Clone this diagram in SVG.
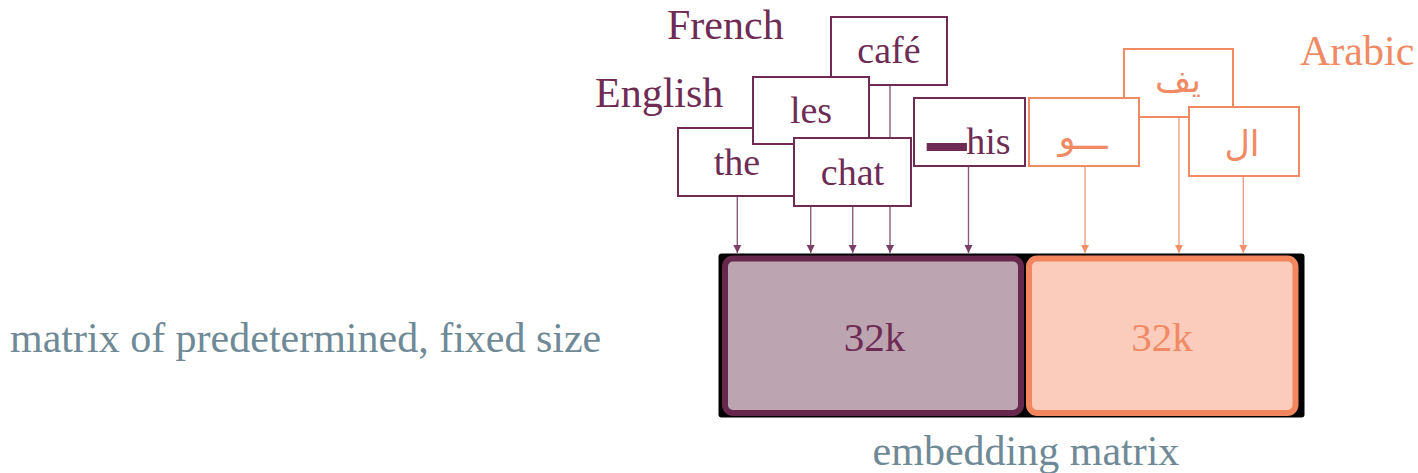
<svg xmlns="http://www.w3.org/2000/svg" width="1418" height="473" viewBox="0 0 1418 473">
  <style>
    .serif { font-family: "Liberation Serif", "Times New Roman", serif; }
    .ar { font-family: "DejaVu Sans", "Noto Sans", sans-serif; }
    .p-box { fill: #ffffff; stroke: #6e2c55; stroke-width: 2; }
    .o-box { fill: #ffffff; stroke: #f28a64; stroke-width: 2; }
    .p-txt { fill: #6e2c55; }
    .o-txt { fill: #f08a64; }
    .g-txt { fill: #6f8a96; }
    .p-line { stroke: #8c5d7b; stroke-width: 1.4; fill: none; marker-end: url(#arrP); }
    .o-line { stroke: #e9a08a; stroke-width: 1.4; fill: none; marker-end: url(#arrO); }
  </style>
  <defs>
    <marker id="arrP" markerUnits="userSpaceOnUse" markerWidth="8" markerHeight="10" refX="8" refY="4" orient="auto" viewBox="0 0 8 8">
      <path d="M0,0 L8,4 L0,8 Z" fill="#7a3f64"/>
    </marker>
    <marker id="arrO" markerUnits="userSpaceOnUse" markerWidth="8" markerHeight="10" refX="8" refY="4" orient="auto" viewBox="0 0 8 8">
      <path d="M0,0 L8,4 L0,8 Z" fill="#f0906c"/>
    </marker>
  </defs>

  <rect width="1418" height="473" fill="#ffffff"/>

  <!-- side captions -->
  <text class="serif g-txt" x="10" y="352" font-size="42">matrix of predetermined, fixed size</text>
  <text class="serif g-txt" x="1026" y="465" font-size="42" text-anchor="middle">embedding matrix</text>

  <!-- language labels -->
  <text class="serif p-txt" x="667" y="39" font-size="42">French</text>
  <text class="serif p-txt" x="595" y="107" font-size="42">English</text>
  <text class="serif o-txt" x="1300" y="65" font-size="42">Arabic</text>

  <!-- embedding matrix -->
  <g id="matrix">
    <rect x="718.5" y="253.5" width="586" height="164" rx="3" fill="#000000"/>
    <g id="block-latin">
      <rect x="725" y="258.5" width="296" height="154.5" rx="8" fill="#bca5b1" stroke="#66284d" stroke-width="6"/>
      <text class="serif p-txt" x="874.5" y="351" font-size="41" text-anchor="middle">32k</text>
    </g>
    <g id="block-arabic">
      <rect x="1029" y="258.5" width="266.5" height="154.5" rx="8" fill="#fbcbbb" stroke="#f2875f" stroke-width="6"/>
      <text class="serif o-txt" x="1162" y="351" font-size="41" text-anchor="middle">32k</text>
    </g>
  </g>

  <!-- connectors: token boxes down to the matrix -->
  <g id="connectors">
    <line class="p-line" x1="737.3" y1="196" x2="737.3" y2="253"/>
    <line class="p-line" x1="810.7" y1="144" x2="810.7" y2="253"/>
    <line class="p-line" x1="852.7" y1="206" x2="852.7" y2="253"/>
    <line class="p-line" x1="890" y1="85" x2="890" y2="253"/>
    <line class="p-line" x1="968.5" y1="166" x2="968.5" y2="253"/>
    <line class="o-line" x1="1085" y1="166" x2="1085" y2="253"/>
    <line class="o-line" x1="1179" y1="117" x2="1179" y2="253"/>
    <line class="o-line" x1="1243.3" y1="176" x2="1243.3" y2="253"/>
  </g>

  <!-- token boxes -->
  <g id="tok-cafe">
    <rect class="p-box" x="831" y="17" width="116" height="68"/>
    <text class="serif p-txt" x="889" y="63" font-size="38" text-anchor="middle">café</text>
  </g>
  <g id="tok-the">
    <rect class="p-box" x="678" y="128" width="118" height="68"/>
    <text class="serif p-txt" x="737" y="175" font-size="38" text-anchor="middle">the</text>
  </g>
  <g id="tok-les">
    <rect class="p-box" x="753" y="77" width="116" height="67"/>
    <text class="serif p-txt" x="811" y="123" font-size="38" text-anchor="middle">les</text>
  </g>
  <g id="tok-chat">
    <rect class="p-box" x="794" y="138" width="117" height="68"/>
    <text class="serif p-txt" x="852.5" y="185" font-size="38" text-anchor="middle">chat</text>
  </g>
  <g id="tok-his">
    <rect class="p-box" x="914" y="98" width="111" height="68"/>
    <text class="serif p-txt" x="927" y="154" font-size="38"><tspan class="ar" font-size="51" dy="-16">▁</tspan><tspan dy="16">his</tspan></text>
  </g>

  <g id="tok-fy">
    <rect class="o-box" x="1124" y="49" width="109" height="68"/>
    <text class="ar o-txt" x="1178" y="92" font-size="35" text-anchor="middle">يف</text>
  </g>
  <g id="tok-w">
    <rect class="o-box" x="1029" y="98" width="110" height="68"/>
    <text class="ar o-txt" x="1083" y="149" font-size="35" text-anchor="middle">ـــو</text>
  </g>
  <g id="tok-al">
    <rect class="o-box" x="1189" y="107" width="110" height="69"/>
    <text class="ar o-txt" x="1242" y="156" font-size="35" text-anchor="middle">ال</text>
  </g>
</svg>
